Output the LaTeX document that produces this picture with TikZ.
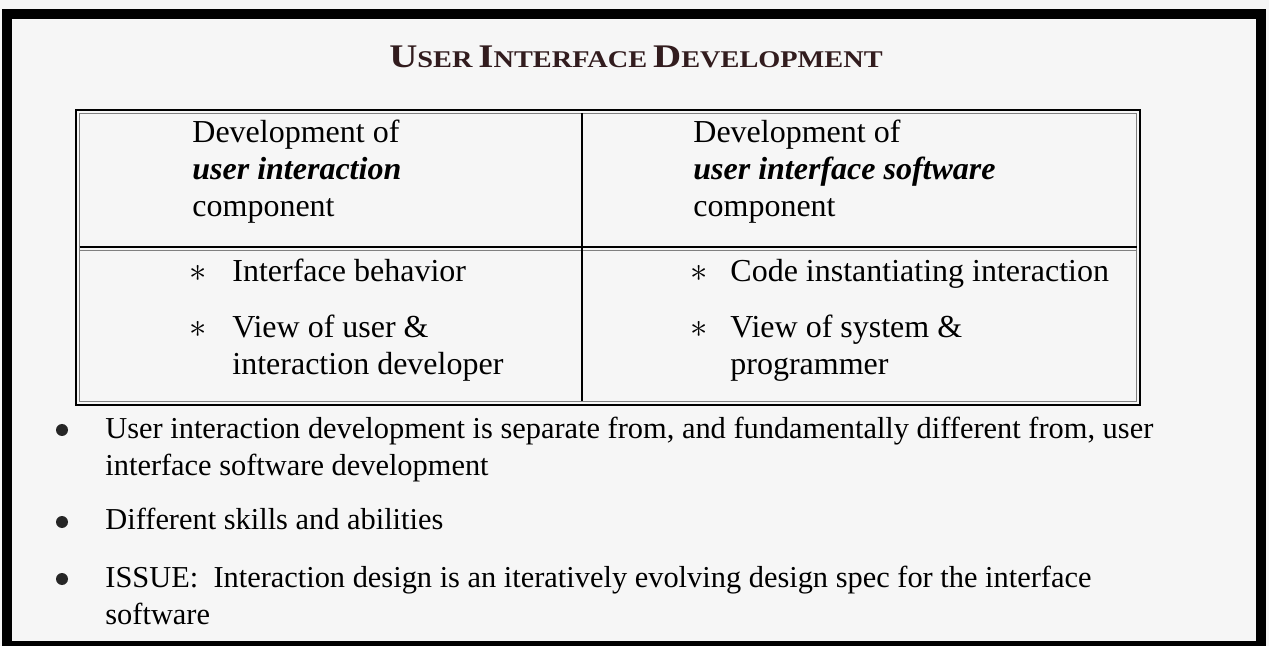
\documentclass[tikz,border=0pt]{standalone}
\usepackage{fontspec}
\setmainfont{Liberation Serif}
\usetikzlibrary{positioning}
\definecolor{paper}{gray}{0.965}
\definecolor{titleink}{RGB}{50,28,30}
\newcommand{\capfirst}[2]{{\fontsize{16.5}{20}\selectfont #1}{\fontsize{12}{20}\selectfont #2}}

\begin{document}
\begin{tikzpicture}[x=0.5pt,y=-0.5pt,
	txt/.style={anchor=base west,inner sep=0pt,align=left,font=\fontsize{16}{18.5}\selectfont},
	listtxt/.style={txt,font=\fontsize{15.2}{18.5}\selectfont},
	bulletsym/.style={anchor=base,inner sep=0pt,font=\fontsize{16}{18.5}\selectfont},
	dot/.style={circle,fill=black!85,inner sep=0pt,minimum size=6pt}]
	\useasboundingbox[fill=paper] (0,0) rectangle (1269,646);
	\draw[line width=5pt] (7,14) rectangle (1261,646);

	\node[anchor=base,inner sep=0pt,text=titleink,font=\bfseries] (title) at (636,68)
		{\scalebox{1.18}[1]{\capfirst{U}{SER} \capfirst{I}{NTERFACE} \capfirst{D}{EVELOPMENT}}};

	\draw[line width=1pt] (76,110) rectangle (1140,405);
	\draw[gray,line width=0.5pt] (79.5,113.5) rectangle (1136.5,401.5);
	\draw[line width=0.8pt] (79.5,247) -- (1136.5,247);
	\draw[gray,line width=0.5pt] (79.5,250.5) -- (1136.5,250.5);
	\draw[line width=0.6pt] (582,113.5) -- (582,401.5);

	\node[txt] (ui) at (192,217) {Development of\\\textbf{\textit{user interaction}}\\component};
	\node[txt] (uis) at (693,217) {Development of\\\textbf{\textit{user interface software}}\\component};

	\node[bulletsym] (s1) at (198,282) {$\ast$};
	\node[txt] (ib) at (232,282) {Interface behavior};
	\node[bulletsym] (s2) at (198,338) {$\ast$};
	\node[txt] (vu) at (232,375) {View of user \&\\interaction developer};
	\node[bulletsym] (s3) at (699,282) {$\ast$};
	\node[txt] (ci) at (730,282) {Code instantiating interaction};
	\node[bulletsym] (s4) at (699,338) {$\ast$};
	\node[txt] (vs) at (730,375) {View of system \&\\programmer};

	\node[dot] (b1) at (62,430) {};
	\node[listtxt] (sep) at (105,475) {User interaction development is separate from, and fundamentally different from, user\\interface software development};
	\node[dot] (b2) at (62,522) {};
	\node[listtxt] (skills) at (105,530) {Different skills and abilities};
	\node[dot] (b3) at (62,579) {};
	\node[listtxt] (issue) at (105,624) {ISSUE:\ \ Interaction design is an iteratively evolving design spec for the interface\\software};
\end{tikzpicture}
\end{document}
